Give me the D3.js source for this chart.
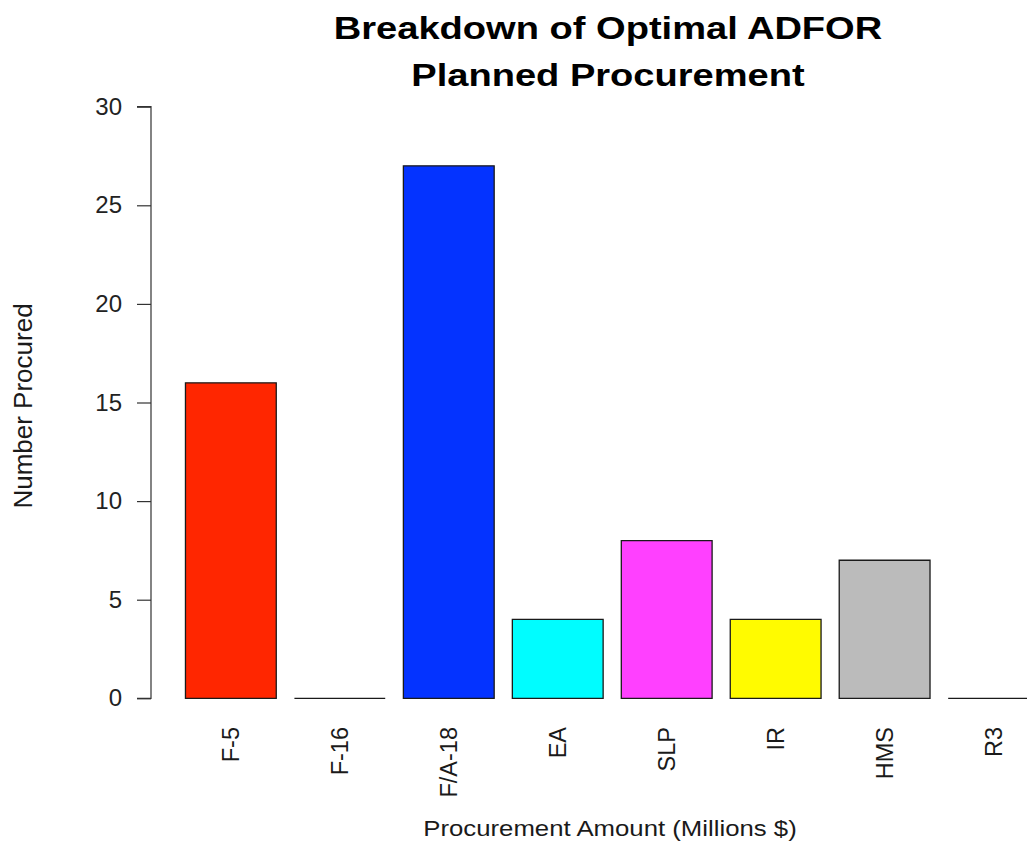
<!DOCTYPE html>
<html>
<head>
<meta charset="utf-8">
<script src="https://cdn.jsdelivr.net/npm/d3@7"></script>
<style>
  html, body { margin: 0; padding: 0; background: #fff; }
  svg { display: block; font-family: "Liberation Sans", Arial, Helvetica, sans-serif; }
</style>
</head>
<body>
<svg id="chart" width="1027" height="844"></svg>
<script>
const categories = ["F-5", "F-16", "F/A-18", "EA", "SLP", "IR", "HMS", "R3"];
const values = [16, 0, 27, 4, 8, 4, 7, 0];
const barColors = ["#FF2600", "#FFFFFF", "#0433FF", "#00FDFF", "#FF40FF", "#FFFB00", "#BBBBBB", "#FFFFFF"];
const yTicks = [0, 5, 10, 15, 20, 25, 30];
const titleLines = ["Breakdown of Optimal ADFOR", "Planned Procurement"];
const xTitle = "Procurement Amount (Millions $)";
const yTitle = "Number Procured";

const svg = d3.select("#chart");

// R barplot geometry: width 1, space 0.2
const barWidth = 1, space = 0.2;
const lefts = categories.map((c, i) => space + i * (barWidth + space));

const x = d3.scaleLinear().domain([0, 1]).range([167.3, 258.1]);
const y = d3.scaleLinear().domain([0, 30]).range([698.3, 106.7]);

// bars (paths so zero-height bars still draw their outline)
svg.append("g").selectAll("path")
  .data(values)
  .join("path")
  .attr("d", (v, i) => {
    const p = d3.path();
    const x0 = x(lefts[i]), x1 = x(lefts[i] + barWidth);
    const y0 = y(0), y1 = y(v);
    p.moveTo(x0, y0); p.lineTo(x0, y1); p.lineTo(x1, y1); p.lineTo(x1, y0); p.closePath();
    return p.toString();
  })
  .attr("fill", (v, i) => barColors[i])
  .attr("stroke", "#1a1a1a")
  .attr("stroke-width", 1.3);

// y axis
const yAxis = d3.axisLeft(y).tickValues(yTicks).tickSize(14).tickPadding(15).tickFormat(d3.format("d"));
const gy = svg.append("g").attr("transform", "translate(151,0)").call(yAxis);
gy.select(".domain").attr("d", `M-14,${y(0)}H0V${y(30)}H-14`).attr("stroke", "#333").attr("stroke-width", 1.2);
gy.selectAll(".tick line").remove();
gy.selectAll(".tick").append("line").attr("x1", -14).attr("x2", 0).attr("stroke", "#333").attr("stroke-width", 1.2);
gy.selectAll(".tick text").attr("font-size", 24).attr("fill", "#222").attr("font-family", "Liberation Sans, Arial, sans-serif");

// x category labels (rotated, las = 2)
svg.append("g").selectAll("text")
  .data(categories)
  .join("text")
  .attr("transform", (c, i) => `translate(${x(lefts[i] + barWidth / 2)},727) rotate(-90)`)
  .attr("text-anchor", "end")
  .attr("dy", "0.36em")
  .attr("font-size", 23.5)
  .attr("fill", "#1a1a1a")
  .text(d => d);

// title
svg.append("g").selectAll("text")
  .data(titleLines)
  .join("text")
  .attr("transform", (t, i) => `translate(608,${39 + i * 46.7}) scale(1.19,1)`)
  .attr("text-anchor", "middle")
  .attr("font-size", 32)
  .attr("font-weight", "bold")
  .attr("fill", "#000")
  .text(d => d);

// x title
svg.append("text")
  .attr("transform", "translate(610,836) scale(1.12,1)")
  .attr("text-anchor", "middle")
  .attr("font-size", 23)
  .attr("fill", "#1a1a1a")
  .text(xTitle);

// y title
svg.append("text")
  .attr("transform", "translate(31.5,406) rotate(-90)")
  .attr("text-anchor", "middle")
  .attr("font-size", 26)
  .attr("fill", "#1a1a1a")
  .text(yTitle);
</script>
</body>
</html>
